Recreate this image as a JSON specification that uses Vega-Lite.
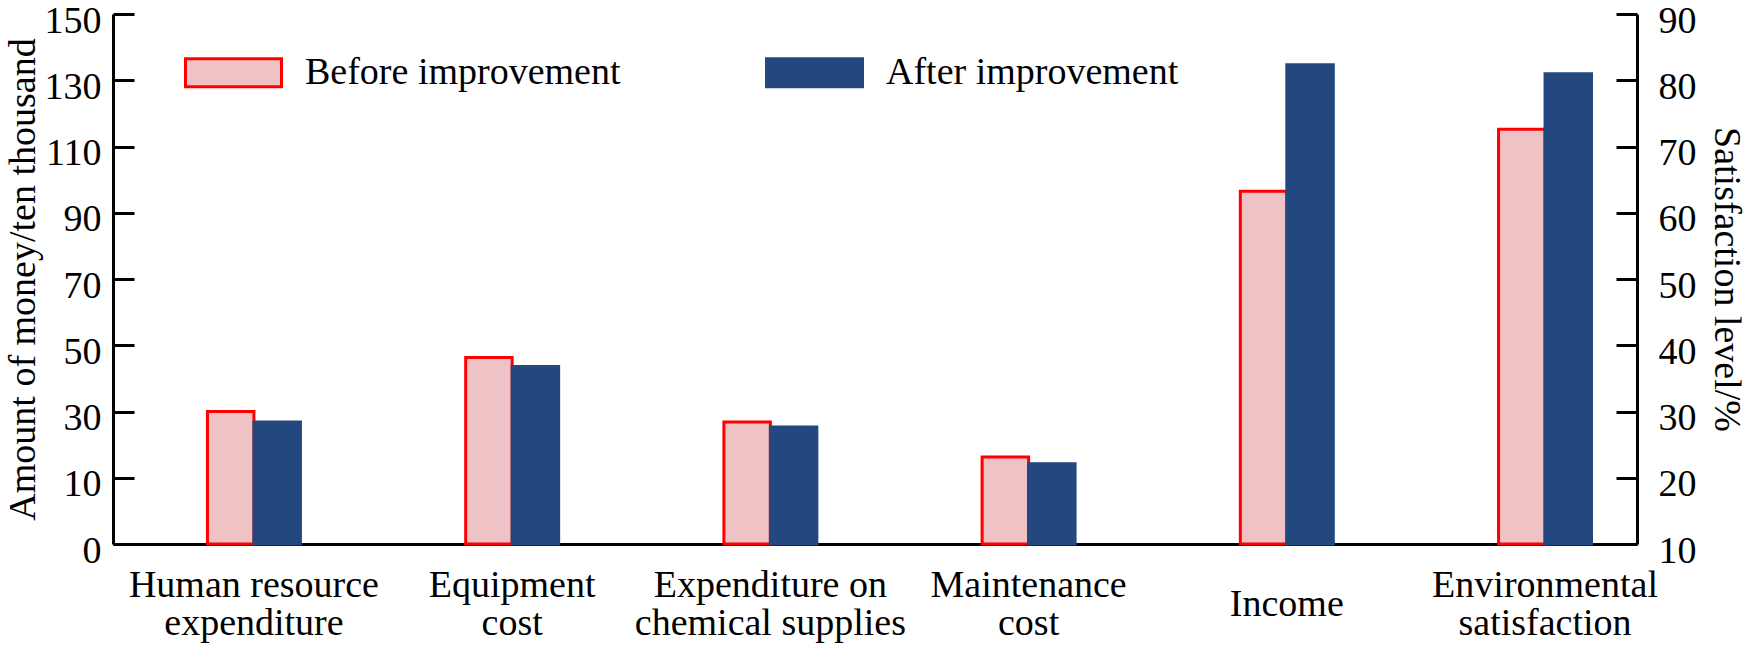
{
  "$schema": "https://vega.github.io/schema/vega-lite/v6.json",
  "width": 1524,
  "height": 530,
  "autosize": {"type": "none"},
  "padding": {"left": 113, "top": 14, "right": 113, "bottom": 112},
  "background": "white",
  "config": {
    "view": {"stroke": null},
    "font": "Liberation Serif",
    "axis": {
      "labelFont": "Liberation Serif",
      "titleFont": "Liberation Serif",
      "labelFontSize": 38,
      "titleFontSize": 38,
      "titleFontWeight": "normal",
      "labelColor": "black",
      "titleColor": "black",
      "domainColor": "black",
      "domainWidth": 3,
      "tickColor": "black",
      "tickWidth": 3,
      "grid": false
    }
  },
  "data": {
    "values": [
      {"category": "Human resource expenditure", "stage": "Before improvement", "value": 30.0},
      {"category": "Human resource expenditure", "stage": "After improvement", "value": 26.8},
      {"category": "Equipment cost", "stage": "Before improvement", "value": 46.3},
      {"category": "Equipment cost", "stage": "After improvement", "value": 43.6},
      {"category": "Expenditure on chemical supplies", "stage": "Before improvement", "value": 26.8},
      {"category": "Expenditure on chemical supplies", "stage": "After improvement", "value": 25.3},
      {"category": "Maintenance cost", "stage": "Before improvement", "value": 16.3},
      {"category": "Maintenance cost", "stage": "After improvement", "value": 14.2},
      {"category": "Income", "stage": "Before improvement", "value": 96.5},
      {"category": "Income", "stage": "After improvement", "value": 134.7},
      {"category": "Environmental satisfaction", "stage": "Before improvement", "value": 72.6},
      {"category": "Environmental satisfaction", "stage": "After improvement", "value": 81.0}
    ]
  },
  "encoding": {
    "x": {
      "field": "category",
      "type": "nominal",
      "sort": ["Human resource expenditure", "Equipment cost", "Expenditure on chemical supplies", "Maintenance cost", "Income", "Environmental satisfaction"],
      "scale": {"paddingInner": 0.64, "paddingOuter": 0.271, "align": 0.675},
      "axis": {
        "title": null,
        "ticks": false,
        "labelAngle": 0,
        "labelPadding": {"condition": {"test": "datum.value == 'Income'", "value": 41}, "value": 22},
        "labelBaseline": "top",
        "labelLineHeight": 38,
        "labelLimit": 0,
        "labelExpr": "datum.label == 'Human resource expenditure' ? ['Human resource','expenditure'] : datum.label == 'Equipment cost' ? ['Equipment','cost'] : datum.label == 'Expenditure on chemical supplies' ? ['Expenditure on','chemical supplies'] : datum.label == 'Maintenance cost' ? ['Maintenance','cost'] : datum.label == 'Environmental satisfaction' ? ['Environmental','satisfaction'] : datum.label"
      }
    },
    "xOffset": {
      "field": "stage",
      "type": "nominal",
      "sort": ["Before improvement", "After improvement"],
      "scale": {"paddingInner": 0}
    },
    "fill": {
      "field": "stage",
      "type": "nominal",
      "sort": ["Before improvement", "After improvement"],
      "scale": {"domain": ["Before improvement", "After improvement"], "range": ["#efc3c5", "#22487f"]},
      "legend": {
        "orient": "none", "legendX": 71, "legendY": 9, "direction": "horizontal", "title": null,
        "symbolType": "M-1,-0.29H1V0.29H-1Z", "symbolSize": 9216, "symbolStrokeWidth": 3,
        "labelFont": "Liberation Serif", "labelFontSize": 38, "labelColor": "black", "labelOffset": 22,
        "columnPadding": 139, "labelLimit": 0, "padding": 0
      }
    },
    "stroke": {
      "field": "stage",
      "type": "nominal",
      "sort": ["Before improvement", "After improvement"],
      "scale": {"domain": ["Before improvement", "After improvement"], "range": ["#ff0000", "#22487f"]},
      "legend": {
        "orient": "none", "legendX": 71, "legendY": 9, "direction": "horizontal", "title": null,
        "symbolType": "M-1,-0.29H1V0.29H-1Z", "symbolSize": 9216, "symbolStrokeWidth": 3,
        "labelFont": "Liberation Serif", "labelFontSize": 38, "labelColor": "black", "labelOffset": 22,
        "columnPadding": 139, "labelLimit": 0, "padding": 0
      }
    }
  },
  "layer": [
    {
      "transform": [{"filter": "datum.category !== 'Environmental satisfaction'"}],
      "mark": {"type": "bar", "strokeWidth": 3},
      "encoding": {
        "y": {
          "field": "value",
          "type": "quantitative",
          "scale": {"domain": [-10, 150], "zero": false, "nice": false},
          "axis": {
            "orient": "left",
            "title": "Amount of money/ten thousand",
            "values": [-10, 10, 30, 50, 70, 90, 110, 130, 150],
            "labelExpr": "datum.value == -10 ? '0' : datum.label",
            "tickSize": -21,
            "labelPadding": 33,
            "labelOffset": 7,
            "titlePadding": 2
          }
        },
        "y2": {"datum": -10}
      }
    },
    {
      "transform": [{"filter": "datum.category === 'Environmental satisfaction'"}],
      "mark": {"type": "bar", "strokeWidth": 3},
      "encoding": {
        "y": {
          "field": "value",
          "type": "quantitative",
          "scale": {"domain": [10, 90], "zero": false, "nice": false},
          "axis": {
            "orient": "right",
            "title": "Satisfaction level/%",
            "values": [10, 20, 30, 40, 50, 60, 70, 80, 90],
            "tickSize": -21,
            "labelPadding": 42,
            "labelOffset": 7,
            "titlePadding": 10
          }
        },
        "y2": {"datum": 10}
      }
    }
  ],
  "resolve": {"scale": {"y": "independent"}, "axis": {"y": "independent"}}
}
